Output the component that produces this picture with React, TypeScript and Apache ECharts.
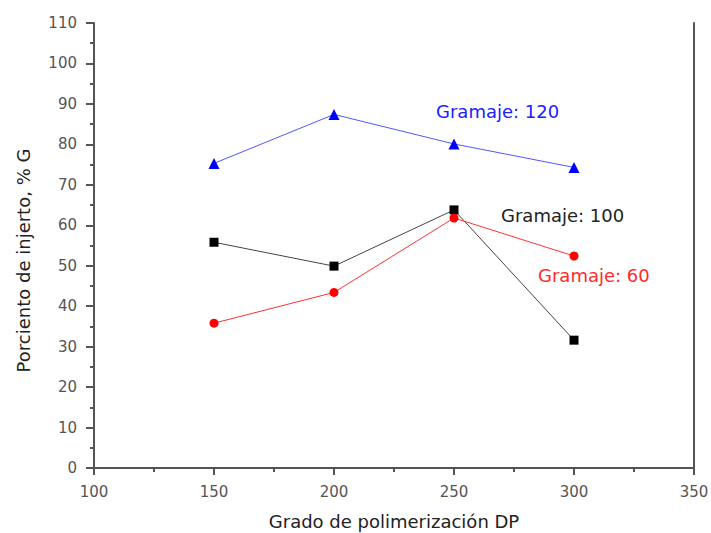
import React, { useEffect, useRef } from "react";
import * as echarts from "echarts";

const dpValues = [150, 200, 250, 300];
const gramaje120 = [75.3, 87.4, 80.1, 74.3];
const gramaje100 = [55.8, 49.9, 63.8, 31.6];
const gramaje60 = [35.8, 43.4, 61.8, 52.4];

const xTitle = "Grado de polimerización DP";
const yTitle = "Porciento de injerto, % G";
const FONT = "DejaVu Sans";

export default function App() {
  const ref = useRef<HTMLDivElement>(null);
  useEffect(() => {
    if (!ref.current) return;
    const chart = echarts.init(ref.current, null, { renderer: "svg" });
    const pair = (ys: number[]) => dpValues.map((x, i) => [x, ys[i]]);
    const axisLine = { show: true, lineStyle: { color: "#555", width: 2 } };
    chart.setOption({
      animation: false,
      backgroundColor: "#fff",
      grid: { left: 94, top: 23, right: 17, bottom: 65, containLabel: false, outerBoundsMode: "none" },
      xAxis: [
        {
          type: "value",
          min: 100,
          max: 350,
          interval: 50,
          name: xTitle,
          nameLocation: "middle",
          nameGap: 44,
          nameTextStyle: { fontFamily: FONT, fontSize: 18, color: "#222" },
          axisLine,
          axisTick: { show: true, inside: false, length: 7, lineStyle: { color: "#555", width: 2 } },
          minorTick: { show: true, splitNumber: 2, length: 4, lineStyle: { color: "#555", width: 2 } },
          splitLine: { show: false },
          axisLabel: { margin: 16, fontFamily: FONT, fontSize: 15, color: "#555" },
        },
        {
          type: "value",
          position: "top",
          min: 100,
          max: 350,
          axisLine,
          axisTick: { show: false },
          axisLabel: { show: false },
          splitLine: { show: false },
        },
      ],
      yAxis: [
        {
          type: "value",
          min: 0,
          max: 110,
          interval: 10,
          name: yTitle,
          nameLocation: "middle",
          nameGap: 62,
          nameTextStyle: { fontFamily: FONT, fontSize: 18, color: "#222", padding: [0, 30, 0, 0] },
          axisLine,
          axisTick: { show: true, inside: false, length: 8, lineStyle: { color: "#555", width: 2 } },
          minorTick: { show: true, splitNumber: 2, length: 4, lineStyle: { color: "#555", width: 2 } },
          splitLine: { show: false },
          axisLabel: { margin: 17, fontFamily: FONT, fontSize: 15, color: "#555" },
        },
        {
          type: "value",
          position: "right",
          min: 0,
          max: 110,
          axisLine,
          axisTick: { show: false },
          axisLabel: { show: false },
          splitLine: { show: false },
        },
      ],
      series: [
        {
          name: "Gramaje: 120",
          type: "line",
          data: pair(gramaje120),
          symbol: "triangle",
          symbolSize: 11,
          itemStyle: { color: "#0000ff" },
          lineStyle: { color: "#5555ff", width: 1 },
        },
        {
          name: "Gramaje: 100",
          type: "line",
          data: pair(gramaje100),
          symbol: "rect",
          symbolSize: 9,
          itemStyle: { color: "#000" },
          lineStyle: { color: "#444", width: 1 },
        },
        {
          name: "Gramaje: 60",
          type: "line",
          data: pair(gramaje60),
          symbol: "circle",
          symbolSize: 9,
          itemStyle: { color: "#ff0000" },
          lineStyle: { color: "#ff3333", width: 1 },
        },
      ],
      graphic: [
        {
          type: "text",
          left: 436,
          top: 102,
          style: { text: "Gramaje: 120", fontFamily: FONT, fontSize: 18, fill: "#2020ff" },
        },
        {
          type: "text",
          left: 501,
          top: 206,
          style: { text: "Gramaje: 100", fontFamily: FONT, fontSize: 18, fill: "#222" },
        },
        {
          type: "text",
          left: 538,
          top: 266,
          style: { text: "Gramaje: 60", fontFamily: FONT, fontSize: 18, fill: "#ff2a2a" },
        },
      ],
    });
    return () => chart.dispose();
  }, []);
  return <div ref={ref} style={{ width: 711, height: 533, position: "absolute", left: 0, top: 0 }} />;
}
